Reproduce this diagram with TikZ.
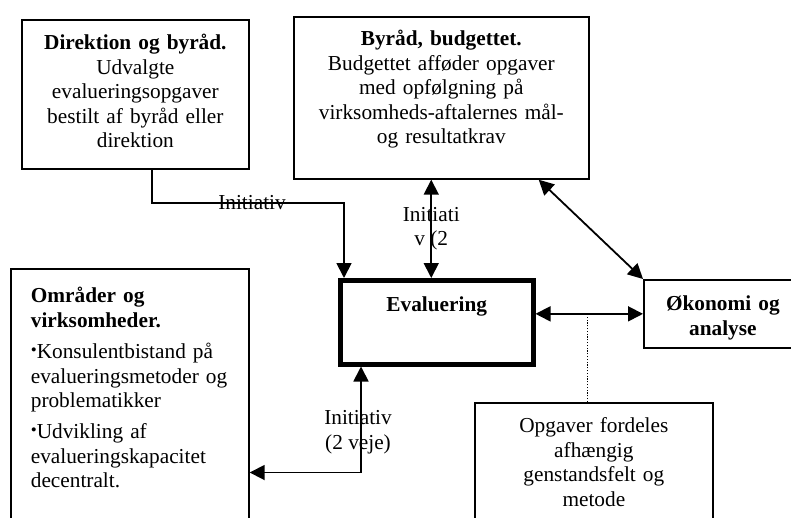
\documentclass[tikz,border=0pt]{standalone}
\usepackage{fontspec}
\setmainfont{Liberation Serif}
\usepackage{tikz}
\usetikzlibrary{arrows.meta}
\newcommand{\bodyfont}{\fontsize{21.3pt}{24.4pt}\selectfont}
\newcommand{\dotmark}{\raisebox{3.5pt}{\fontsize{17pt}{17pt}\selectfont\textbullet}}
\tikzset{
  box/.style={draw, line width=1.7pt, inner sep=0pt, align=center, font=\bodyfont},
  mainbox/.style={box, line width=4.5pt},
  lbl/.style={font=\bodyfont, inner sep=0pt, align=center},
  arr/.style={->, line width=1.8pt},
  twoway/.style={<->, line width=1.8pt},
  dots/.style={line width=1.2pt, dash pattern=on 1.2pt off 1.6pt},
}

\begin{document}
\begin{tikzpicture}[x=1pt, y=-1pt, >={Triangle[length=15pt,width=15pt]}]
  \useasboundingbox (0,0) rectangle (791,517);
  \clip (0,0) rectangle (791,517);
  \node[box, anchor=north west, text width=227, text height=30, text depth=119] (dir) at (21,19)
    {\textbf{Direktion og byråd.}\\ Udvalgte\\ evalueringsopgaver\\ bestilt af byråd eller\\ direktion};
  \node[box, anchor=north west, text width=295, text height=29, text depth=133] (byr) at (293,16)
    {\textbf{Byråd, budgettet.}\\ Budgettet afføder opgaver\\ med opfølgning på\\ virksomheds-aftalernes mål-\\ og resultatkrav};
  \node[box, align=left, inner xsep=20pt, anchor=north west, text width=198, text height=34, text depth=230] (omr) at (10,268)
    {\textbf{Områder og}\\ \textbf{virksomheder.}\\[7pt]
     \dotmark Konsulentbistand på\\ evalueringsmetoder og\\ problematikker\\[7pt]
     \dotmark Udvikling af\\ evalueringskapacitet\\ decentralt.};
  \node[mainbox, anchor=north west, text width=193, text height=31, text depth=53] (eva) at (338,278)
    {\textbf{Evaluering}};
  \node[box, anchor=north west, text width=158, text height=31, text depth=37] (oko) at (643,279)
    {\textbf{Økonomi og}\\ \textbf{analyse}};
  \node[box, anchor=north west, text width=238, text height=30, text depth=100] (opg) at (474,402)
    {Opgaver fordeles\\ afhængig\\ genstandsfelt og\\ metode};

  \draw[arr] ([xshift=17pt]dir.south) -- ++(0,33) -| node[lbl, pos=0.26]{Initiativ} ([xshift=6pt]eva.north west);
  \draw[twoway] ([xshift=-5.5pt]eva.north) -- node[lbl]{Initiati\\v (2} ([xshift=-5.5pt]eva.north |- byr.south);
  \draw[twoway] ([xshift=-51pt]byr.south east) -- (oko.north west);
  \draw[twoway] (eva.east |- oko.west) -- (oko.west);
  \draw[dots] ([xshift=-6pt]opg.north) -- ([xshift=-6pt]opg.north |- oko.west);
  \draw[twoway] ([xshift=23pt]eva.south west) -- node[lbl, pos=0.62, xshift=-3pt]{Initiativ\\(2 veje)} ++(0,106) coordinate (turn) -- (turn -| omr.east);
\end{tikzpicture}
\end{document}
